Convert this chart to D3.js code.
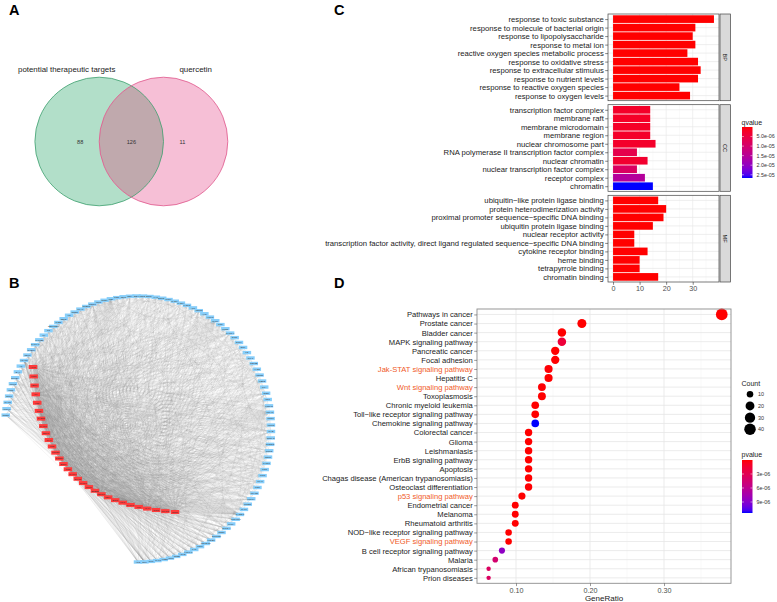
<!DOCTYPE html>
<html><head><meta charset="utf-8">
<script src="https://cdn.jsdelivr.net/npm/d3@7/dist/d3.min.js"></script>
<style>html,body{margin:0;padding:0;background:#fff}svg{display:block}text{font-family:"Liberation Sans",Arial,Helvetica,sans-serif;-webkit-font-smoothing:antialiased}</style>
</head><body>
<svg id="fig" width="777" height="602" viewBox="0 0 777 602"></svg>
<script>
// ================= DATA =================
const panelLetters = ["A", "B", "C", "D"];

// Panel A – Venn
const vennNames = ["potential therapeutic targets", "quercetin"];
const vennCounts = [88, 126, 11]; // left only, shared, right only

// Panel B – network (node labels are unreadable in the source; hubs in red)
const redGenes = ["AKT1","TP53","VEGFA","IL6","TNF","JUN","CASP3","MAPK1","EGFR","MYC",
  "IL1B","PTGS2","CCND1","ESR1","FOS","MAPK8","STAT3","CXCL8","MMP9","ERBB2",
  "CDKN1A","RELA","BCL2","HIF1A","MAPK14","IL10","CAT","CCL2","PPARG","SIRT1"];
const blueGenes = ["NOS3","HMOX1","ICAM1","SPP1","IFNG","MMP2","NFKBIA","BAX","AR","VCAM1",
  "CDK1","CHEK1","CYP1A1","CYP1B1","IL4","IL2","SERPINE1","THBD","SELE","F3",
  "NOS2","PLAU","IGFBP3","GSTP1","MPO","NQO1","RB1","PCNA","CDK2","CDK4",
  "E2F1","TOP2A","BIRC5","XIAP","BCL2L1","MCL1","CASP8","CASP9","FASLG","APP",
  "ABCG2","AHR","ALOX5","CHUK","CRP","CTSD","CYP3A4","DIO1","DPP4","EGF",
  "F2","GJA1","GSK3B","HAS2","HSPB1","IKBKB","IL1A","INSR","IRF1","KCNH2",
  "MGAM","MMP1","MMP3","MYB","NCOA2","NFE2L2","NR1I2","ODC1","PARP1","PGR",
  "PIM1","PLAT","POR","PPARD","PRKCA","PRSS1","RAF1","RASSF1","RUNX1T1","RXRA",
  "SLC2A4","SOD1","SULT1E1","TGFB1","TNFSF15","TOP1","TYR","UGT1A1","ACHE","ADRB2",
  "CHRM1","CYP2B6","DCAF5","ELK1","EIF6","HK2"];

// Panel C – GO enrichment
const ontologies = ["BP", "CC", "MF"];
const goTerms = [
  "response to toxic substance","response to molecule of bacterial origin","response to lipopolysaccharide",
  "response to metal ion","reactive oxygen species metabolic process","response to oxidative stress",
  "response to extracellular stimulus","response to nutrient levels","response to reactive oxygen species",
  "response to oxygen levels",
  "transcription factor complex","membrane raft","membrane microdomain","membrane region",
  "nuclear chromosome part","RNA polymerase II transcription factor complex","nuclear chromatin",
  "nuclear transcription factor complex","receptor complex","chromatin",
  "ubiquitin\u2212like protein ligase binding","protein heterodimerization activity",
  "proximal promoter sequence\u2212specific DNA binding","ubiquitin protein ligase binding",
  "nuclear receptor activity",
  "transcription factor activity, direct ligand regulated sequence\u2212specific DNA binding",
  "cytokine receptor binding","heme binding","tetrapyrrole binding","chromatin binding"];
const goOntology = ["BP","BP","BP","BP","BP","BP","BP","BP","BP","BP",
  "CC","CC","CC","CC","CC","CC","CC","CC","CC","CC",
  "MF","MF","MF","MF","MF","MF","MF","MF","MF","MF"];
const goCount = [38,31,30,31,28,32,33,32,25,29,
  14,14,14,14,16,9,13,9,12,15,
  17,20,19,15,8,8,13,10,10,17];
const goQvalue = [2e-12,4e-13,5e-13,3e-11,1e-11,2e-10,3e-10,5e-10,2e-9,4e-10,
  2.6e-6,2.4e-6,2.4e-6,2.6e-6,2.8e-6,6.2e-6,3.2e-6,8.6e-6,1.55e-5,2.67e-5,
  3e-9,2e-10,5e-9,1e-8,2e-8,2e-8,4e-8,6e-8,6e-8,9e-9];
const goTicks = [0, 10, 20, 30];
const qLegendTicks = [5e-6, 1e-5, 1.5e-5, 2e-5, 2.5e-5];
const qLegendLabels = ["5.0e-06", "1.0e-05", "1.5e-05", "2.0e-05", "2.5e-05"];

// Panel D – KEGG enrichment
const keggTerms = ["Pathways in cancer","Prostate cancer","Bladder cancer","MAPK signaling pathway",
  "Pancreatic cancer","Focal adhesion","Jak-STAT signaling pathway","Hepatitis C","Wnt signaling pathway",
  "Toxoplasmosis","Chronic myeloid leukemia","Toll\u2212like receptor signaling pathway",
  "Chemokine signaling pathway","Colorectal cancer","Glioma","Leishmaniasis","ErbB signaling pathway",
  "Apoptosis","Chagas disease (American trypanosomiasis)","Osteoclast differentiation",
  "p53 signaling pathway","Endometrial cancer","Melanoma","Rheumatoid arthritis",
  "NOD\u2212like receptor signaling pathway","VEGF signaling pathway","B cell receptor signaling pathway",
  "Malaria","African trypanosomiasis","Prion diseases"];
const keggHighlighted = ["Jak-STAT signaling pathway","Wnt signaling pathway","p53 signaling pathway","VEGF signaling pathway"];
const keggGeneRatio = [0.378,0.189,0.162,0.162,0.153,0.153,0.144,0.144,0.135,0.135,
  0.126,0.126,0.126,0.117,0.117,0.117,0.117,0.117,0.117,0.117,
  0.108,0.099,0.099,0.099,0.090,0.090,0.081,0.072,0.063,0.063];
const keggCount = [42,21,18,18,17,17,16,16,15,15,14,14,14,13,13,13,13,13,13,13,12,11,11,11,10,10,9,8,7,7];
const keggPvalue = [3e-23,4e-15,6e-13,1.8e-6,2e-12,4e-8,1e-7,2e-9,8e-8,3e-9,
  5e-11,1.5e-9,1.136e-5,2e-11,8e-12,4e-12,2e-9,1.6e-9,3e-9,5.7e-8,
  4e-9,6e-10,2.8e-8,3.5e-8,1.2e-8,9e-9,8.6e-6,4.3e-6,3.6e-6,3.6e-6];
const ratioTicks = [0.1, 0.2, 0.3];
const ratioMinor = [0.05, 0.15, 0.25, 0.35];
const countLegend = [10, 20, 30, 40];
const pLegendTicks = [3e-6, 6e-6, 9e-6];
const pLegendLabels = ["3e-06", "6e-06", "9e-06"];

// ================= DRAW =================
const svg = d3.select("#fig");
svg.append("rect").attr("width", 777).attr("height", 602).attr("fill", "#fff");

// panel letters
const letterXY = [[9, 14.7], [9, 287.5], [334, 14.7], [334, 287.5]];
svg.selectAll("text.letter").data(panelLetters).enter().append("text")
  .attr("class", "letter").attr("x", (d, i) => letterXY[i][0]).attr("y", (d, i) => letterXY[i][1])
  .attr("font-size", 14.5).attr("font-weight", "bold").attr("fill", "#000").text(d => d);

// ---------- A: Venn ----------
(function () {
  const g = svg.append("g");
  const rV = 64.3, cy = 141.5;
  const cx = d3.scalePoint().domain(vennNames).range([99.2, 163.5]);
  const fills = ["#b2dfc9", "#f6bfd6"], strokes = ["#3d9f6f", "#e0578b"];
  g.append("defs").append("clipPath").attr("id", "vclip").append("circle")
    .attr("cx", cx(vennNames[0])).attr("cy", cy).attr("r", rV);
  vennNames.forEach((n, i) => g.append("circle").attr("cx", cx(n)).attr("cy", cy).attr("r", rV).attr("fill", fills[i]));
  g.append("circle").attr("cx", cx(vennNames[1])).attr("cy", cy).attr("r", rV)
    .attr("clip-path", "url(#vclip)").attr("fill", "#c0a9ad");
  vennNames.forEach((n, i) => g.append("circle").attr("cx", cx(n)).attr("cy", cy).attr("r", rV)
    .attr("fill", "none").attr("stroke", strokes[i]).attr("stroke-width", 0.8));
  const labX = [cx(vennNames[0]) - 32.5, cx(vennNames[1]) + 32.2];
  vennNames.forEach((n, i) => g.append("text").attr("x", labX[i]).attr("y", 72).attr("text-anchor", "middle")
    .attr("font-size", 7.9).attr("fill", "#222").text(n));
  const numX = [cx(vennNames[0]) - 19, (cx(vennNames[0]) + cx(vennNames[1])) / 2, cx(vennNames[1]) + 19];
  vennCounts.forEach((v, i) => g.append("text").attr("x", numX[i]).attr("y", cy + 2)
    .attr("text-anchor", "middle").attr("font-size", 5.6).attr("fill", "#333").text(v));
})();

// ---------- B: network ----------
(function () {
  const g = svg.append("g");
  const C = { x: 138, y: 429 }, R = 133;
  const ang = d3.scalePoint().domain(blueGenes).range([186, 450]);
  const pos = new Map();
  blueGenes.forEach(n => { const a = ang(n) * Math.PI / 180; pos.set(n, [C.x + R * Math.cos(a), C.y + R * Math.sin(a)]); });
  const P = [[33, 367], [38, 460], [80, 505], [175, 512]];
  const tS = d3.scalePoint().domain(redGenes).range([0, 1]);
  redGenes.forEach(n => {
    const t = tS(n), u = 1 - t;
    const w = [u * u * u, 3 * u * u * t, 3 * u * t * t, t * t * t];
    pos.set(n, [d3.sum(P, (p, k) => w[k] * p[0]), d3.sum(P, (p, k) => w[k] * p[1])]);
  });
  // edge list (interaction structure not readable in the source – deterministic approximation)
  const edges = [];
  redGenes.forEach((r, i) => {
    blueGenes.forEach((b, j) => { if ((i * 37 + j * 53 + i * j * 11) % 17 < 8) edges.push([r, b]); });
    redGenes.forEach((r2, k) => { if (k > i && (i * 7 + k * 5) % 3 === 0) edges.push([r, r2]); });
  });
  blueGenes.forEach((b, j) => blueGenes.forEach((b2, k) => { if (k > j && (j * 31 + k * 17 + j * k) % 23 === 0) edges.push([b, b2]); }));
  g.append("g").selectAll("line").data(edges).enter().append("line")
    .attr("x1", d => pos.get(d[0])[0]).attr("y1", d => pos.get(d[0])[1])
    .attr("x2", d => pos.get(d[1])[0]).attr("y2", d => pos.get(d[1])[1])
    .attr("stroke", "#8a8a8a").attr("stroke-opacity", 0.22).attr("stroke-width", 0.4);
  const drawNodes = (list, fill, w, h) => {
    const ng = g.append("g").selectAll("g").data(list).enter().append("g")
      .attr("transform", d => `translate(${pos.get(d)[0]},${pos.get(d)[1]})`);
    ng.append("rect").attr("x", -w / 2).attr("y", -h / 2).attr("width", w).attr("height", h).attr("fill", fill);
    ng.append("text").attr("text-anchor", "middle").attr("y", 0.8).attr("font-size", 2.2).attr("fill", "#333").text(d => d);
  };
  drawNodes(blueGenes, "#87cefa", 8.5, 3.4);
  drawNodes(redGenes, "#ff3b3b", 8.5, 4);
})();

// ---------- C: GO bar chart ----------
(function () {
  const g = svg.append("g");
  const x = d3.scaleLinear().domain([-1.9, 39.9]).range([608, 719]);
  const panels = [[14, 100.7], [104.7, 191.3], [195.3, 282]];
  const col = d3.scaleLinear().domain(d3.extent(goQvalue)).range(["#ff0000", "#0000ff"]).interpolate(d3.interpolateLab);
  ontologies.forEach((ont, pi) => {
    const [y0, y1] = panels[pi];
    const idx = d3.range(goTerms.length).filter(i => goOntology[i] === ont);
    const y = d3.scalePoint().domain(idx.map(i => goTerms[i])).range([y0, y1]).padding(0.6);
    const bh = y.step() * 0.9;
    const p = g.append("g");
    p.append("rect").attr("x", 608).attr("y", y0).attr("width", 111).attr("height", y1 - y0).attr("fill", "#fff");
    [5, 15, 25, 35].forEach(v => p.append("line").attr("x1", x(v)).attr("x2", x(v)).attr("y1", y0).attr("y2", y1).attr("stroke", "#f2f2f2").attr("stroke-width", 0.4));
    goTicks.forEach(v => p.append("line").attr("x1", x(v)).attr("x2", x(v)).attr("y1", y0).attr("y2", y1).attr("stroke", "#e8e8e8").attr("stroke-width", 0.7));
    y.domain().forEach(t => p.append("line").attr("x1", 608).attr("x2", 719).attr("y1", y(t)).attr("y2", y(t)).attr("stroke", "#e8e8e8").attr("stroke-width", 0.7));
    p.selectAll("rect.bar").data(idx).enter().append("rect").attr("class", "bar")
      .attr("x", x(0)).attr("y", i => y(goTerms[i]) - bh / 2).attr("width", i => x(goCount[i]) - x(0)).attr("height", bh)
      .attr("fill", i => col(goQvalue[i]));
    p.append("rect").attr("x", 608).attr("y", y0).attr("width", 111).attr("height", y1 - y0)
      .attr("fill", "none").attr("stroke", "#444").attr("stroke-width", 0.7);
    // strip
    p.append("rect").attr("x", 720).attr("y", y0).attr("width", 10.5).attr("height", y1 - y0)
      .attr("fill", "#d9d9d9").attr("stroke", "#444").attr("stroke-width", 0.7);
    p.append("text").attr("transform", `translate(${725.2},${(y0 + y1) / 2}) rotate(90)`).attr("text-anchor", "middle")
      .attr("dy", "0.35em").attr("font-size", 5.6).attr("fill", "#1a1a1a").text(ont);
    // y axis
    const ax = p.append("g").attr("transform", "translate(608,0)").call(d3.axisLeft(y).tickSize(2.8).tickPadding(1.4));
    ax.select(".domain").remove();
    ax.selectAll("line").attr("stroke", "#333").attr("stroke-width", 0.6);
    ax.selectAll("text").attr("font-size", 7.7).attr("fill", "#1a1a1a").attr("font-family", null);
  });
  const xa = g.append("g").attr("transform", "translate(0,282)").call(d3.axisBottom(x).tickValues(goTicks).tickSize(2.8).tickPadding(1.5));
  xa.select(".domain").remove();
  xa.selectAll("line").attr("stroke", "#333").attr("stroke-width", 0.6);
  xa.selectAll("text").attr("font-size", 7.2).attr("fill", "#4d4d4d").attr("font-family", null);
  // legend
  const lg = g.append("g");
  lg.append("text").attr("x", 741.5).attr("y", 124.5).attr("font-size", 7).attr("fill", "#1a1a1a").text("qvalue");
  const ext = d3.extent(goQvalue);
  const ly = d3.scaleLinear().domain(ext).range([127, 178]);
  const grad = lg.append("defs").append("linearGradient").attr("id", "qgrad").attr("x1", 0).attr("x2", 0).attr("y1", 0).attr("y2", 1);
  d3.range(0, 1.0001, 0.05).forEach(t => grad.append("stop").attr("offset", t).attr("stop-color", col(ext[0] + t * (ext[1] - ext[0]))));
  lg.append("rect").attr("x", 742).attr("y", 127).attr("width", 10.5).attr("height", 51).attr("fill", "url(#qgrad)");
  qLegendTicks.forEach((v, i) => {
    lg.append("line").attr("x1", 742).attr("x2", 744).attr("y1", ly(v)).attr("y2", ly(v)).attr("stroke", "#fff").attr("stroke-width", 0.5);
    lg.append("line").attr("x1", 750.5).attr("x2", 752.5).attr("y1", ly(v)).attr("y2", ly(v)).attr("stroke", "#fff").attr("stroke-width", 0.5);
    lg.append("text").attr("x", 756.5).attr("y", ly(v)).attr("dy", "0.35em").attr("font-size", 5.4).attr("fill", "#333").text(qLegendLabels[i]);
  });
})();

// ---------- D: KEGG dot plot ----------
(function () {
  const g = svg.append("g");
  const x = d3.scaleLinear().domain([0.0473, 0.3905]).range([477, 731]);
  const y = d3.scalePoint().domain(keggTerms).range([309, 583.3]).padding(0.6);
  const col = d3.scaleLinear().domain(d3.extent(keggPvalue)).range(["#ff0000", "#0000ff"]).interpolate(d3.interpolateLab);
  const cExt = d3.extent(keggCount);
  const t = d3.scaleLinear().domain(cExt).range([0, 1]);
  const rad = c => 2.2 + 3.65 * Math.sqrt(Math.max(0, t(c)));
  g.append("rect").attr("x", 477).attr("y", 309).attr("width", 254).attr("height", 274.3).attr("fill", "#fff");
  ratioMinor.forEach(v => g.append("line").attr("x1", x(v)).attr("x2", x(v)).attr("y1", 309).attr("y2", 583.3).attr("stroke", "#f2f2f2").attr("stroke-width", 0.5));
  ratioTicks.forEach(v => g.append("line").attr("x1", x(v)).attr("x2", x(v)).attr("y1", 309).attr("y2", 583.3).attr("stroke", "#e6e6e6").attr("stroke-width", 0.8));
  keggTerms.forEach(k => g.append("line").attr("x1", 477).attr("x2", 731).attr("y1", y(k)).attr("y2", y(k)).attr("stroke", "#e6e6e6").attr("stroke-width", 0.8));
  g.selectAll("circle.dot").data(d3.range(keggTerms.length)).enter().append("circle").attr("class", "dot")
    .attr("cx", i => x(keggGeneRatio[i])).attr("cy", i => y(keggTerms[i])).attr("r", i => rad(keggCount[i]))
    .attr("fill", i => col(keggPvalue[i]));
  g.append("rect").attr("x", 477).attr("y", 309).attr("width", 254).attr("height", 274.3)
    .attr("fill", "none").attr("stroke", "#8c8c8c").attr("stroke-width", 0.9);
  const ya = g.append("g").attr("transform", "translate(477,0)").call(d3.axisLeft(y).tickSize(2.8).tickPadding(1.4));
  ya.select(".domain").remove();
  ya.selectAll("line").attr("stroke", "#555").attr("stroke-width", 0.6);
  ya.selectAll("text").attr("font-size", 7.6).attr("font-family", null)
    .attr("fill", d => keggHighlighted.includes(d) ? "#f05a28" : "#1a1a1a");
  const xa = g.append("g").attr("transform", "translate(0,583.3)").call(d3.axisBottom(x).tickValues(ratioTicks).tickSize(2.8).tickPadding(1.5));
  xa.select(".domain").remove();
  xa.selectAll("line").attr("stroke", "#555").attr("stroke-width", 0.6);
  xa.selectAll("text").attr("font-size", 7.2).attr("fill", "#4d4d4d").attr("font-family", null);
  g.append("text").attr("x", 604).attr("y", 600.5).attr("text-anchor", "middle").attr("font-size", 8).attr("fill", "#1a1a1a").text("GeneRatio");
  // size legend
  const lg = g.append("g");
  lg.append("text").attr("x", 741.5).attr("y", 385.5).attr("font-size", 7).attr("fill", "#1a1a1a").text("Count");
  const ls = d3.scalePoint().domain(countLegend).range([394.3, 429.3]);
  countLegend.forEach(c => {
    lg.append("circle").attr("cx", 750).attr("cy", ls(c)).attr("r", rad(c)).attr("fill", "#000");
    lg.append("text").attr("x", 758).attr("y", ls(c)).attr("dy", "0.35em").attr("font-size", 5.4).attr("fill", "#333").text(c);
  });
  // colour legend
  lg.append("text").attr("x", 741.5).attr("y", 456.5).attr("font-size", 7).attr("fill", "#1a1a1a").text("pvalue");
  const ext = d3.extent(keggPvalue);
  const ly = d3.scaleLinear().domain(ext).range([460, 513]);
  const grad = lg.append("defs").append("linearGradient").attr("id", "pgrad").attr("x1", 0).attr("x2", 0).attr("y1", 0).attr("y2", 1);
  d3.range(0, 1.0001, 0.05).forEach(tt => grad.append("stop").attr("offset", tt).attr("stop-color", col(ext[0] + tt * (ext[1] - ext[0]))));
  lg.append("rect").attr("x", 742).attr("y", 460).attr("width", 10.5).attr("height", 53).attr("fill", "url(#pgrad)");
  pLegendTicks.forEach((v, i) => {
    lg.append("line").attr("x1", 742).attr("x2", 744).attr("y1", ly(v)).attr("y2", ly(v)).attr("stroke", "#fff").attr("stroke-width", 0.5);
    lg.append("line").attr("x1", 750.5).attr("x2", 752.5).attr("y1", ly(v)).attr("y2", ly(v)).attr("stroke", "#fff").attr("stroke-width", 0.5);
    lg.append("text").attr("x", 756.5).attr("y", ly(v)).attr("dy", "0.35em").attr("font-size", 5.4).attr("fill", "#333").text(pLegendLabels[i]);
  });
})();
</script>
</body></html>
